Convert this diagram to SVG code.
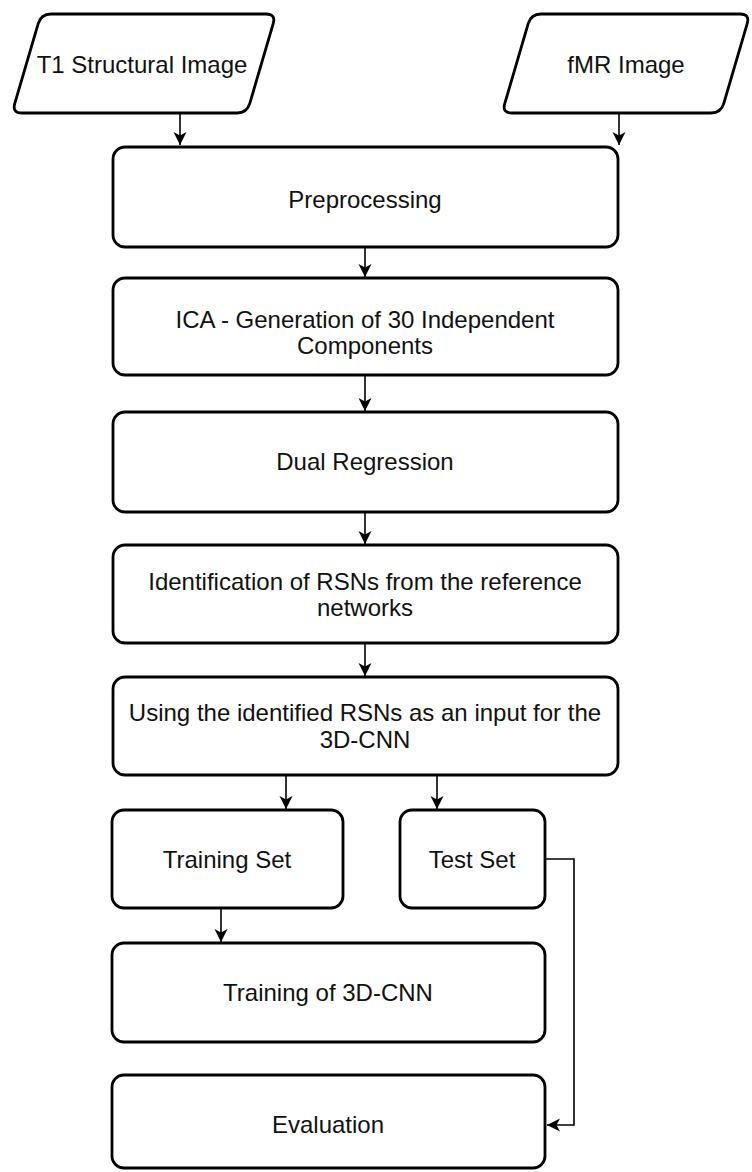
<svg xmlns="http://www.w3.org/2000/svg" width="752" height="1172" viewBox="0 0 752 1172">
<style>
.box{fill:#fff;stroke:#000;stroke-width:2.8}
.lbl{font-family:"Liberation Sans",Arial,sans-serif;font-size:24px;fill:#111;text-anchor:middle}
.con{fill:none;stroke:#000;stroke-width:1.6}
</style>
<defs>
<marker id="arr" markerUnits="userSpaceOnUse" markerWidth="16" markerHeight="16" viewBox="0 0 16 16" refX="14" refY="8" orient="auto">
<path d="M1,1.5 L14,8 L1,14.5 L4.5,8 Z" fill="#000"/>
</marker>
</defs>
<rect width="752" height="1172" fill="#fff"/>
<g id="n-t1">
<path class="box" d="M51,14 L266,14 Q276,14 273.2,23.6 L249.8,103.4 Q247,113 237,113 L22,113 Q12,113 14.8,103.4 L38.2,23.6 Q41,14 51,14 Z"/>
<text class="lbl" x="142" y="73">T1 Structural Image</text>
</g>
<g id="n-fmr">
<path class="box" d="M541,14 L740,14 Q750,14 747.2,23.6 L723.8,103.4 Q721,113 711,113 L512,113 Q502,113 504.8,103.4 L528.2,23.6 Q531,14 541,14 Z"/>
<text class="lbl" x="626" y="73">fMR Image</text>
</g>
<g id="n-pre">
<rect class="box" x="113" y="147" width="505" height="100" rx="12"/>
<text class="lbl" x="365" y="208">Preprocessing</text>
</g>
<g id="n-ica">
<rect class="box" x="113" y="278" width="505" height="97" rx="12"/>
<text class="lbl" x="365" y="328">ICA - Generation of 30 Independent</text>
<text class="lbl" x="365" y="354">Components</text>
</g>
<g id="n-dual">
<rect class="box" x="113" y="412" width="505" height="100" rx="12"/>
<text class="lbl" x="365" y="470">Dual Regression</text>
</g>
<g id="n-ident">
<rect class="box" x="113" y="545" width="505" height="98" rx="12"/>
<text class="lbl" x="365" y="590">Identification of RSNs from the reference</text>
<text class="lbl" x="365" y="616">networks</text>
</g>
<g id="n-using">
<rect class="box" x="113" y="677" width="505" height="98" rx="12"/>
<text class="lbl" x="365" y="721">Using the identified RSNs as an input for the</text>
<text class="lbl" x="365" y="748">3D-CNN</text>
</g>
<g id="n-train">
<rect class="box" x="112" y="810" width="231" height="98" rx="12"/>
<text class="lbl" x="227" y="868">Training Set</text>
</g>
<g id="n-test">
<rect class="box" x="400" y="810" width="145" height="98" rx="12"/>
<text class="lbl" x="472" y="868">Test Set</text>
</g>
<g id="n-training">
<rect class="box" x="112" y="943" width="433" height="99" rx="12"/>
<text class="lbl" x="328" y="1001">Training of 3D-CNN</text>
</g>
<g id="n-eval">
<rect class="box" x="112" y="1075" width="433" height="93" rx="12"/>
<text class="lbl" x="328" y="1133">Evaluation</text>
</g>
<g id="connectors">
<path class="con" d="M180,113 V145" marker-end="url(#arr)"/>
<path class="con" d="M619,113 V145" marker-end="url(#arr)"/>
<path class="con" d="M365,247 V277" marker-end="url(#arr)"/>
<path class="con" d="M365,375 V411" marker-end="url(#arr)"/>
<path class="con" d="M365,512 V544" marker-end="url(#arr)"/>
<path class="con" d="M365,643 V676" marker-end="url(#arr)"/>
<path class="con" d="M286,775 V809" marker-end="url(#arr)"/>
<path class="con" d="M437,775 V809" marker-end="url(#arr)"/>
<path class="con" d="M221,908 V942" marker-end="url(#arr)"/>
<path class="con" d="M545,859 H574 V1125 H547" marker-end="url(#arr)"/>
</g>
</svg>
